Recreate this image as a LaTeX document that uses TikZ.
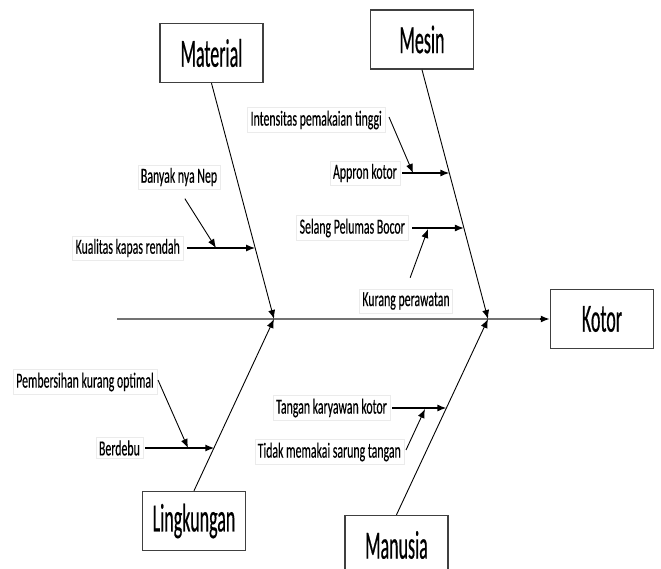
\documentclass[tikz,border=0pt]{standalone}
\usepackage{fontspec}
\setmainfont[FakeStretch=0.55]{Carlito}
\newfontfamily\bigfont[FakeStretch=0.45,FakeBold=0.4]{Carlito}
\newfontfamily\lblfont[FakeStretch=0.55,FakeBold=0.3]{Carlito}
\usetikzlibrary{arrows.meta,calc}
\begin{document}
\begin{tikzpicture}[x=1pt,y=-1pt,
  catbox/.style={draw=black!75,line width=1.5pt,fill=white,minimum width=103pt,minimum height=59pt,inner sep=0pt,font=\bigfont\fontsize{40}{42}\selectfont},
  lbl/.style={draw=black!8,fill=white,inner sep=3pt,font=\lblfont\fontsize{21.5}{23}\selectfont},
  bone/.style={line width=0.9pt,-{Latex[length=9pt,width=7pt]}},
  sub/.style={line width=1.4pt,-{Latex[length=9pt,width=7pt]}},
  subsub/.style={line width=0.9pt,-{Latex[length=9pt,width=7pt]}},
  spine/.style={draw=black!55,line width=2pt},
]
\clip (0,0) rectangle (661,569);
\fill[white] (0,0) rectangle (661,569);

% category boxes
\node[catbox] (mat) at (211.5,53) {Material};
\node[catbox] (mes) at (422,39.5) {Mesin};
\node[catbox] (lin) at (194,521) {Lingkungan};
\node[catbox] (man) at (396.5,545) {Manusia};
\node[catbox] (kot) at (602,319) {Kotor};

% spine
\coordinate (sp0) at (117,319);
\coordinate (j1) at (274,319);
\coordinate (j2) at (488,319);
\draw[spine] (sp0) -- ($(kot.west)+(-8,0)$);
\draw[line width=1.4pt,-{Latex[length=9pt,width=7pt]}] ($(kot.west)+(-10,0)$) -- (kot.west);

% main bones
\draw[bone] (mat.south) -- (j1);
\draw[bone] (mes.south) -- (j2);
\draw[bone] (lin.north) -- (j1);
\draw[bone] (man.north) -- (j2);

% points on bones
\coordinate (pk) at ($(mat.south)!0.699!(j1)$);
\coordinate (pa) at ($(mes.south)!0.416!(j2)$);
\coordinate (ps) at ($(mes.south)!0.636!(j2)$);
\coordinate (pb) at ($(lin.north)!0.254!(j1)$);
\coordinate (pt) at ($(man.north)!0.546!(j2)$);

% labels
\node[lbl,anchor=east] (kual) at (183,248) {Kualitas kapas rendah};
\node[lbl] (nep) at (179,177) {Banyak nya Nep};
\node[lbl,anchor=east] (int) at (385,120) {Intensitas pemakaian tinggi};
\node[lbl,anchor=east] (app) at (400,173) {Appron kotor};
\node[lbl,anchor=east] (sel) at (408,228) {Selang Pelumas Bocor};
\node[lbl] (kur) at (406,301) {Kurang perawatan};
\node[lbl,anchor=east] (tan) at (390,408) {Tangan karyawan kotor};
\node[lbl,anchor=east] (tid) at (404,452) {Tidak memakai sarung tangan};
\node[lbl,anchor=east] (pem) at (157,382) {Pembersihan kurang optimal};
\node[lbl,anchor=east] (ber) at (143,448) {Berdebu};

% sub arrows
\draw[sub,shorten <=4pt] (kual.east) -- (kual.east -| pk);
\draw[sub,shorten <=2pt] (app.east) -- (app.east -| pa);
\draw[sub,shorten <=4pt] (sel.east) -- (sel.east -| ps);
\draw[sub,shorten <=2pt] (ber.east) -- (ber.east -| pb);
\draw[sub,shorten <=2pt] (tan.east) -- (tan.east -| pt);

% sub-sub arrows
\coordinate (tnep) at (216,248);
\coordinate (tint) at (413,173);
\coordinate (tkur) at (428,229);
\coordinate (ttid) at (425,409);
\coordinate (tpem) at (188,448);
\draw[subsub,shorten <=11pt] (nep.south) -- (tnep);
\draw[subsub] ($(int.east)+(4,-3)$) -- (tint);
\draw[subsub,shorten <=12pt] (kur.north) -- (tkur);
\draw[subsub] ($(tid.east)+(2,-2)$) -- (ttid);
\draw[subsub] ($(pem.east)+(1,-2)$) -- (tpem);
\end{tikzpicture}
\end{document}
